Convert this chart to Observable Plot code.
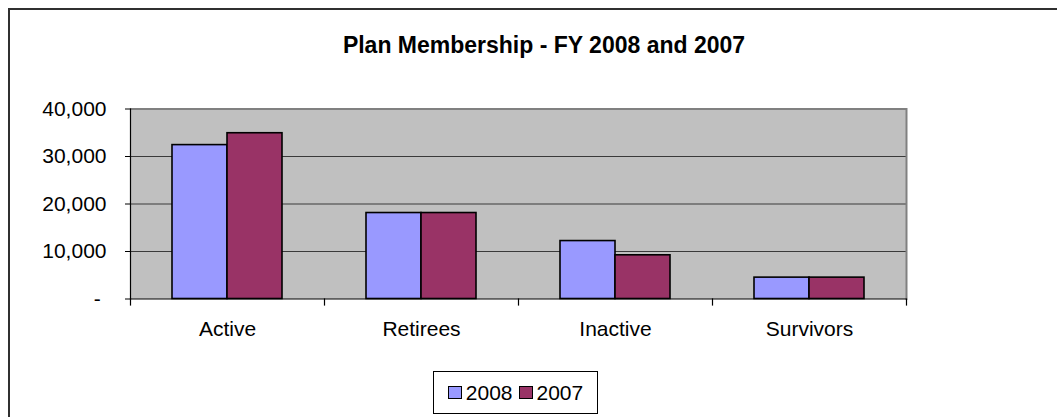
<!DOCTYPE html>
<html>
<head>
<meta charset="utf-8">
<script src="https://cdn.jsdelivr.net/npm/d3@7"></script>
<script src="https://cdn.jsdelivr.net/npm/@observablehq/plot@0.6"></script>
<style>
  html, body { margin: 0; padding: 0; background: #fff; overflow: hidden; }
  #wrap { position: relative; width: 1057px; height: 417px; font-family: "Liberation Sans", Arial, sans-serif; }
  #frame { position: absolute; left: 8px; top: 8px; width: 1100px; height: 500px; border-left: 2px solid #303030; border-top: 2px solid #303030; box-sizing: border-box; }
  #title { position: absolute; left: 0; width: 1088px; top: 32px; text-align: center; font-weight: bold; font-size: 23px; color: #000; white-space: nowrap; }
  #chart { position: absolute; left: 0; top: 0; }
  #legend { position: absolute; left: 433px; top: 371px; width: 165px; height: 43px; box-sizing: border-box; border: 1px solid #000; background: #fff; display: flex; align-items: center; justify-content: center; gap: 6px; font-size: 21px; }
  .item { display: flex; align-items: center; gap: 4px; }
  .sw { width: 14px; height: 13px; box-sizing: border-box; border: 1.5px solid #000; }
</style>
</head>
<body>
<div id="wrap">
  <div id="frame"></div>
  <div id="chart"></div>
  <div id="title"></div>
  <div id="legend"></div>
</div>
<script>
const title = "Plan Membership - FY 2008 and 2007";
const categories = ["Active", "Retirees", "Inactive", "Survivors"];
const series = ["2008", "2007"];
const values2008 = [32400, 18100, 12200, 4500];
const values2007 = [34900, 18100, 9200, 4500];
const yTicks = [0, 10000, 20000, 30000, 40000];
const colors = ["#9999FF", "#993366"];

const data = [];
categories.forEach((c, i) => {
  data.push({category: c, year: series[0], value: values2008[i]});
  data.push({category: c, year: series[1], value: values2007[i]});
});

const fmt = d3.format(",");
const chart = Plot.plot({
  width: 1057,
  height: 417,
  marginLeft: 130,
  marginRight: 150.5,
  marginTop: 108.5,
  marginBottom: 118.5,
  style: {fontFamily: "'Liberation Sans', Arial, sans-serif", fontSize: "21px", background: "transparent", color: "#000"},
  fx: {domain: categories, padding: 0, label: null},
  x: {domain: series, paddingInner: 0, paddingOuter: 0.759, axis: null},
  y: {domain: [0, 40000], label: null},
  color: {domain: series, range: colors},
  marks: [
    Plot.frame({fill: "#C0C0C0", stroke: null, shapeRendering: "crispEdges", insetLeft: -0.5, insetRight: -0.5}),
    Plot.gridY(yTicks.filter(d => d > 0 && d < 40000), {stroke: "#3a3a3a", strokeOpacity: 1, strokeWidth: 1.2}),
    Plot.ruleY([40000], {stroke: "#808080", strokeWidth: 2}),
    Plot.frame({anchor: "right", facetAnchor: "right", stroke: "#808080", strokeWidth: 2}),
    Plot.barY(data, {fx: "category", x: "year", y: "value", fill: "year", stroke: "#000", strokeWidth: 1.6}),
    Plot.ruleY([0], {stroke: "#000", strokeWidth: 1.2}),
    Plot.frame({anchor: "left", facetAnchor: "left", stroke: "#000", strokeWidth: 1.2}),
    Plot.frame({anchor: "left", stroke: "#000", strokeWidth: 1.2, insetTop: 190, insetBottom: -6}),
    Plot.frame({anchor: "right", facetAnchor: "right", stroke: "#000", strokeWidth: 1.2, insetTop: 190, insetBottom: -6}),
    Plot.axisY({ticks: yTicks, tickSize: 5, tickPadding: 19, tickFormat: d => d === 0 ? "- " : fmt(d), fontSize: 21, stroke: "#000"}),
    Plot.axisFx({anchor: "bottom", tickSize: 0, tickPadding: 22, fontSize: 21, label: null})
  ]
});
document.getElementById("chart").appendChild(chart);
document.getElementById("title").textContent = title;

const legend = document.getElementById("legend");
series.forEach((s, i) => {
  const item = document.createElement("div");
  item.className = "item";
  const sw = document.createElement("div");
  sw.className = "sw";
  sw.style.background = colors[i];
  const t = document.createElement("span");
  t.textContent = s;
  item.appendChild(sw);
  item.appendChild(t);
  legend.appendChild(item);
});
</script>
</body>
</html>
